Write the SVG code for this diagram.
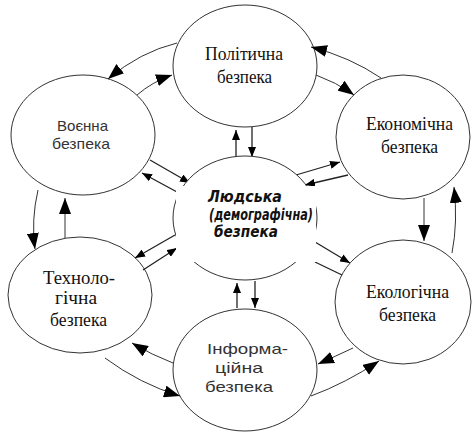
<svg xmlns="http://www.w3.org/2000/svg" width="472" height="432" viewBox="0 0 472 432">
<style>
.node ellipse{fill:#fff;stroke:#333;stroke-width:1}
.serif{font-family:"Liberation Serif","Times New Roman",serif;font-size:18px;fill:#111}
.sans{font-family:"Liberation Sans",Arial,sans-serif;font-size:15px;fill:#333}
.bold{font-family:"DejaVu Sans","Liberation Sans",sans-serif;font-size:15px;font-weight:bold;font-style:italic;fill:#111}
.c path,.c line{fill:none;stroke:#333;stroke-width:1}
.c .big{marker-end:url(#ab)}
.c .sm{marker-end:url(#as);stroke:#222;stroke-width:1.3}
</style>
<defs>
<marker id="ab" viewBox="0 0 16 12" refX="16" refY="6" markerWidth="16" markerHeight="12" orient="auto" markerUnits="userSpaceOnUse"><path d="M0,0 L16,6 L0,12 z" fill="#000"/></marker>
<marker id="as" viewBox="0 0 10 8" refX="10" refY="4" markerWidth="10" markerHeight="8" orient="auto" markerUnits="userSpaceOnUse"><path d="M0,0 L10,4 L0,8 z" fill="#000"/></marker>
</defs>
<rect width="472" height="432" fill="#fff"/>
<g id="node-politychna" class="node">
<ellipse cx="245" cy="66" rx="72" ry="61"/>
<text class="serif" x="205" y="60" textLength="78" lengthAdjust="spacingAndGlyphs">Політична</text>
<text class="serif" x="217" y="83" textLength="55" lengthAdjust="spacingAndGlyphs">безпека</text>
</g>
<g id="node-voienna" class="node">
<ellipse cx="83" cy="135" rx="72" ry="60"/>
<text class="sans" x="57" y="131" textLength="51" lengthAdjust="spacingAndGlyphs">Воєнна</text>
<text class="sans" x="52" y="149" textLength="58" lengthAdjust="spacingAndGlyphs">безпека</text>
</g>
<g id="node-ekonomichna" class="node">
<ellipse cx="403" cy="137" rx="67" ry="62"/>
<text class="serif" x="366" y="130" textLength="87" lengthAdjust="spacingAndGlyphs">Економічна</text>
<text class="serif" x="381" y="153" textLength="57" lengthAdjust="spacingAndGlyphs">безпека</text>
</g>
<g id="node-tekhnolohichna" class="node">
<ellipse cx="80" cy="295" rx="72" ry="58"/>
<text class="serif" x="43" y="284" textLength="72" lengthAdjust="spacingAndGlyphs">Техноло-</text>
<text class="serif" x="55" y="304" textLength="42" lengthAdjust="spacingAndGlyphs">гічна</text>
<text class="serif" x="50" y="326" textLength="57" lengthAdjust="spacingAndGlyphs">безпека</text>
</g>
<g id="node-ekolohichna" class="node">
<ellipse cx="403" cy="302" rx="68" ry="62"/>
<text class="serif" x="366" y="298" textLength="83" lengthAdjust="spacingAndGlyphs">Екологічна</text>
<text class="serif" x="379" y="321" textLength="57" lengthAdjust="spacingAndGlyphs">безпека</text>
</g>
<g id="node-informatsiina" class="node">
<ellipse cx="245" cy="370" rx="72" ry="61"/>
<text class="sans" x="207" y="354" textLength="81" lengthAdjust="spacingAndGlyphs">Інформа-</text>
<text class="sans" x="215" y="373" textLength="48" lengthAdjust="spacingAndGlyphs">ційна</text>
<text class="sans" x="205" y="392" textLength="68" lengthAdjust="spacingAndGlyphs">безпека</text>
</g>
<g id="connectors" class="c">
<path class="big" d="M177,43 Q140,52 108,79"/>
<path class="big" d="M137,95 Q152,82 172,75"/>
<path class="big" d="M381,78 Q350,57 311,47"/>
<path class="big" d="M316,75 Q336,82 354,95"/>
<path class="big" d="M424,198 L424,241"/>
<path class="big" d="M452,253 Q458,222 454,187"/>
<path class="big" d="M353,348 Q336,356 318,364"/>
<path class="big" d="M311,396 Q346,383 379,361"/>
<path class="big" d="M173,363 Q152,355 132,343"/>
<path class="big" d="M105,358 Q140,384 180,396"/>
<path class="big" d="M38,190 Q31,220 35,249"/>
<path class="big" d="M65,238 L65,198"/>
<line class="sm" x1="236" y1="157" x2="236" y2="130"/>
<line class="sm" x1="252" y1="127" x2="252" y2="157"/>
<line class="sm" x1="296" y1="175" x2="340" y2="162"/>
<line class="sm" x1="348" y1="175" x2="305" y2="185"/>
<line class="sm" x1="150" y1="160" x2="190" y2="183"/>
<line class="sm" x1="177" y1="192" x2="142" y2="173"/>
<line class="sm" x1="175" y1="235" x2="135" y2="258"/>
<line class="sm" x1="143" y1="270" x2="177" y2="248"/>
<line class="sm" x1="315" y1="242" x2="350" y2="263"/>
<line x1="315" y1="262" x2="342" y2="275" style="stroke:#222;stroke-width:1.3"/>
<line class="sm" x1="237" y1="308" x2="237" y2="283"/>
<line class="sm" x1="255" y1="281" x2="255" y2="308"/>
</g>
<g id="node-liudska" class="node">
<ellipse cx="245" cy="218" rx="72" ry="62"/>
<rect x="176" y="186" width="140" height="76" fill="#fff"/>
<text class="bold" x="208" y="202" textLength="74" lengthAdjust="spacingAndGlyphs">Людська</text>
<text class="bold" x="209" y="220" textLength="104" lengthAdjust="spacingAndGlyphs">(демографічна)</text>
<text class="bold" x="214" y="237" textLength="64" lengthAdjust="spacingAndGlyphs">безпека</text>
</g>
</svg>
